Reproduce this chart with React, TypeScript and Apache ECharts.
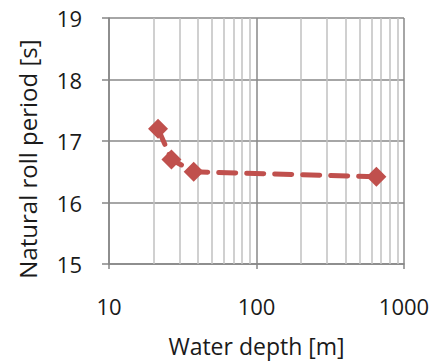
import React, { useEffect, useRef } from "react";
import * as echarts from "echarts";

const depths = [21.5, 26.5, 37.5, 650];
const periods = [17.2, 16.7, 16.5, 16.42];
const minorDepths = [20, 30, 40, 50, 60, 70, 80, 90, 200, 300, 400, 500, 600, 700, 800, 900];
const xTickLabels = ["10", "100", "1000"];

export default function App() {
  const ref = useRef<HTMLDivElement>(null);
  useEffect(() => {
    if (!ref.current) return;
    const chart = echarts.init(ref.current, null, { renderer: "svg" });
    const font = "'Open Sans', Lato, sans-serif";
    chart.setOption({
      animation: false,
      backgroundColor: "#ffffff",
      grid: { left: 109, right: 40, top: 18, bottom: 97, containLabel: false, outerBoundsMode: "none" },
      xAxis: {
        type: "log",
        logBase: 10,
        min: 10,
        max: 1000,
        name: "Water depth [m]",
        nameLocation: "middle",
        nameGap: 70,
        nameTextStyle: { fontFamily: font, fontSize: 23, color: "#1a1a1a" },
        axisLine: { show: true, lineStyle: { color: "#868686", width: 1.5 } },
        axisTick: { show: true, length: 5, inside: false, lineStyle: { color: "#868686", width: 1.5 } },
        axisLabel: {
          margin: 31,
          fontFamily: font,
          fontSize: 22,
          color: "#1a1a1a",
          formatter: (v: number) => {
            const idx = Math.round(Math.log10(v)) - 1;
            return xTickLabels[idx] ?? String(v);
          },
        },
        splitLine: { show: true, lineStyle: { color: "#898989", width: 1.5 } },
        minorTick: { show: false },
      },
      yAxis: {
        type: "value",
        min: 15,
        max: 19,
        interval: 1,
        name: "Natural roll period [s]",
        nameLocation: "middle",
        nameGap: 70,
        nameTextStyle: { fontFamily: font, fontSize: 24, color: "#1a1a1a", padding: [0, 36, 0, 0] },
        axisLine: { show: true, lineStyle: { color: "#868686", width: 1.5 } },
        axisTick: { show: true, length: 7, inside: false, lineStyle: { color: "#868686", width: 1.5 } },
        axisLabel: { margin: 27, fontFamily: font, fontSize: 22, color: "#1a1a1a" },
        splitLine: { show: true, lineStyle: { color: "#898989", width: 1.5 } },
      },
      series: [
        {
          type: "line",
          z: 10,
          data: depths.map((d, i) => [d, periods[i]]),
          symbol: "diamond",
          symbolSize: 20,
          itemStyle: { color: "#c0504d" },
          lineStyle: { color: "#c0504d", width: 5, type: [17, 11], cap: "round" },
          markLine: {
            silent: true,
            z: 1,
            symbol: ["none", "none"],
            label: { show: false },
            lineStyle: { color: "#c0c0c0", width: 1.5, type: "solid" },
            data: minorDepths.map((v) => ({ xAxis: v })),
          },
        },
      ],
    });
    return () => chart.dispose();
  }, []);
  return <div ref={ref} style={{ width: 444, height: 361, position: "absolute", left: 0, top: 0 }} />;
}
